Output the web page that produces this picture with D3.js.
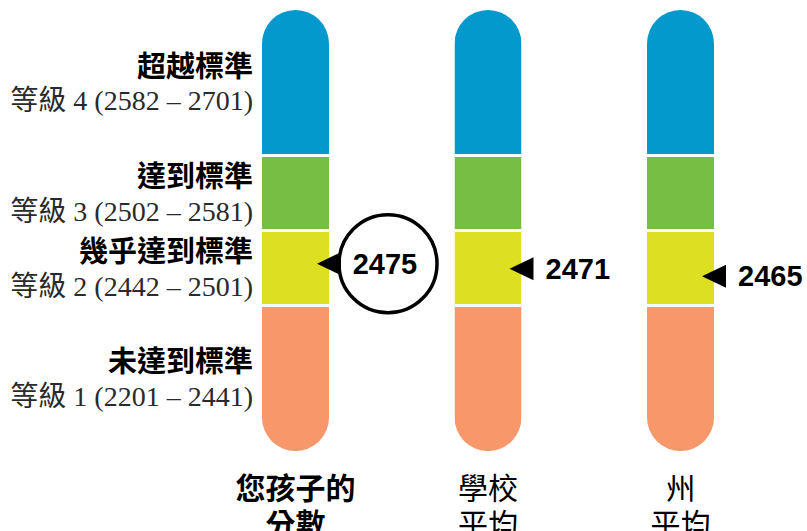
<html>
<head>
<meta charset="utf-8">
<script src="https://d3js.org/d3.v7.min.js"></script>
<style>
  body { margin: 0; background: #fff; }
</style>
</head>
<body>
<svg id="chart" width="807" height="531"></svg>
<script>
// ---- data ----
var levelNames   = ["超越標準", "達到標準", "幾乎達到標準", "未達到標準"];
var levelNumbers = [4, 3, 2, 1];
var levelMin     = [2582, 2502, 2442, 2201];
var levelMax     = [2701, 2581, 2501, 2441];
var columnKeys   = ["child", "school", "state"];
var columnLines  = [["您孩子的", "分數"], ["學校", "平均"], ["州", "平均"]];
var scores       = [2475, 2471, 2465];

var colors = ["#0399cc", "#77bf44", "#dde020", "#f7976a"];

var svg = d3.select("#chart");
var barW = 67, r = barW / 2;
var barTop = 10, barBottom = 451, bandH = 75;

// column centres
var x = d3.scalePoint().domain(columnKeys).range([295.5, 680.5]);

// piecewise y scale: each level gets its own band
var outerH = (barBottom - barTop - 2 * bandH) / 2;
var y = d3.scaleLinear()
	.domain([levelMin[3], levelMin[2] - 0.5, levelMin[1] - 0.5, levelMin[0] - 0.5, levelMax[0]])
	.range([barBottom, barBottom - outerH, barBottom - outerH - bandH, barTop + outerH, barTop]);

function segTop(i) { return i == 0 ? y(levelMax[0]) : y(levelMax[i] + 0.5); }
function segBot(i) { return i == 3 ? y(levelMin[3]) : y(levelMin[i] - 0.5); }

var defs = svg.append("defs");
columnKeys.forEach(function(k) {
	defs.append("clipPath").attr("id", "clip-" + k)
		.append("rect")
		.attr("x", x(k) - r).attr("y", barTop)
		.attr("width", barW).attr("height", barBottom - barTop)
		.attr("rx", r).attr("ry", r);
});

// bars
var cols = svg.selectAll("g.col").data(columnKeys)
	.enter().append("g").attr("class", "col")
	.attr("clip-path", function(k) { return "url(#clip-" + k + ")"; });

cols.each(function(k) {
	var g = d3.select(this);
	g.selectAll("rect").data(levelNames).enter().append("rect")
		.attr("x", x(k) - r)
		.attr("y", function(d, i) { return segTop(i); })
		.attr("width", barW)
		.attr("height", function(d, i) { return segBot(i) - segTop(i); })
		.attr("fill", function(d, i) { return colors[i]; });
	g.selectAll("line").data([0, 1, 2]).enter().append("line")
		.attr("x1", x(k) - r).attr("x2", x(k) + r)
		.attr("y1", function(i) { return segBot(i); })
		.attr("y2", function(i) { return segBot(i); })
		.attr("stroke", "#fff").attr("stroke-width", 3);
});

// level labels on the left
var labelX = 253;
levelNames.forEach(function(name, i) {
	var mid = (segTop(i) + segBot(i)) / 2;
	svg.append("text")
		.attr("x", labelX).attr("y", mid - 19)
		.attr("text-anchor", "end").attr("dominant-baseline", "central")
		.style("font-family", "'Noto Sans CJK TC', sans-serif")
		.style("font-weight", "bold").style("font-size", "29px")
		.attr("fill", "#000")
		.text(name);
	svg.append("text")
		.attr("x", labelX).attr("y", mid + 18)
		.attr("text-anchor", "end").attr("dominant-baseline", "central")
		.style("font-family", "'Liberation Serif', 'Noto Sans CJK TC', serif")
		.style("font-size", "28px")
		.attr("fill", "#2a2a2a")
		.text("等級 " + levelNumbers[i] + " (" + levelMin[i] + " – " + levelMax[i] + ")");
});

// score markers
columnKeys.forEach(function(k, i) {
	var sy = y(scores[i]);
	var tip = x(k) + r - 12;
	var base = tip + 24;
	var textX;
	if (i == 0) {
		var cx = x(k) + r + 59;
		svg.append("circle")
			.attr("cx", cx).attr("cy", sy).attr("r", 49)
			.attr("fill", "#fff").attr("stroke", "#000").attr("stroke-width", 3.5);
		textX = cx - 3;
	}
	svg.append("path")
		.attr("d", "M" + tip + "," + sy + "L" + base + "," + (sy - 11.5) + "L" + base + "," + (sy + 11.5) + "Z")
		.attr("fill", "#000");
	svg.append("text")
		.attr("x", i == 0 ? textX : base + 12).attr("y", sy)
		.attr("text-anchor", i == 0 ? "middle" : "start")
		.attr("dominant-baseline", "central")
		.style("font-family", "'Liberation Sans', Arial, sans-serif")
		.style("font-weight", "bold").style("font-size", "29px")
		.attr("fill", "#000")
		.text(scores[i]);
});

// column labels at the bottom
columnKeys.forEach(function(k, i) {
	columnLines[i].forEach(function(line, j) {
		svg.append("text")
			.attr("x", x(k)).attr("y", 486 + j * 36)
			.attr("text-anchor", "middle").attr("dominant-baseline", "central")
			.style("font-family", "'Noto Sans CJK TC', sans-serif")
			.style("font-weight", i == 0 ? "bold" : "normal")
			.style("font-size", "30px")
			.attr("fill", "#000")
			.text(line);
	});
});
</script>
</body>
</html>
